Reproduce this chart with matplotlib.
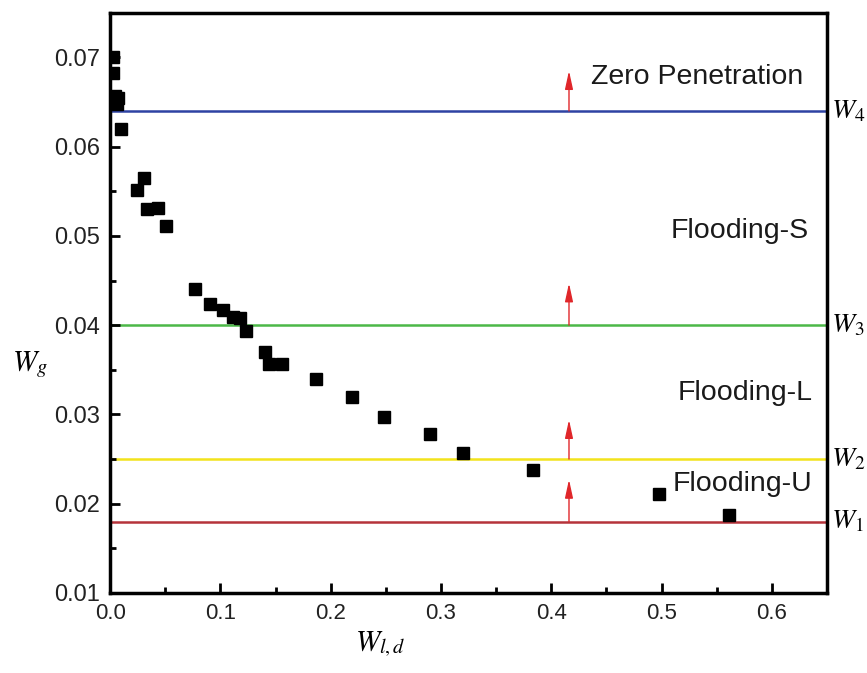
import numpy as np
from matplotlib import pyplot as plt
from matplotlib.ticker import MultipleLocator

plt.rcParams['font.family'] = ['Liberation Sans', 'DejaVu Sans']
plt.rcParams['mathtext.fontset'] = 'stix'

# measured points
wld = [0.003, 0.003, 0.004, 0.007, 0.006, 0.0097, 0.0248, 0.031, 0.0335, 0.0435,
       0.051, 0.0768, 0.0907, 0.1024, 0.1115, 0.118, 0.1236, 0.140, 0.1439, 0.156,
       0.1868, 0.2197, 0.2486, 0.290, 0.3195, 0.3834, 0.498, 0.5615]
wg = [0.0700, 0.0682, 0.0657, 0.0655, 0.0648, 0.0620, 0.0552, 0.0565, 0.0530, 0.0531,
      0.0511, 0.0441, 0.0424, 0.0417, 0.0409, 0.0408, 0.0393, 0.0370, 0.0357, 0.0357,
      0.0340, 0.0320, 0.0297, 0.0278, 0.0257, 0.0238, 0.0211, 0.0187]

# regime boundaries W1..W4
bounds = [0.018, 0.025, 0.040, 0.064]
bound_colors = ['#b5333a', '#f2e31c', '#4cb848', '#2e43a3']
bound_names = ['$W_1$', '$W_2$', '$W_3$', '$W_4$']
arrow_tops = [0.0227, 0.0294, 0.0447, 0.0685]
arrow_x = 0.416

regimes = ['Flooding-U', 'Flooding-L', 'Flooding-S', 'Zero Penetration']
regime_y = [0.0222, 0.0324, 0.0505, 0.0678]
regime_x = [0.637, 0.637, 0.633, 0.628]

fig = plt.figure(figsize=(8.67, 6.73), dpi=100)
ax = fig.add_axes([0.127, 0.119, 0.827, 0.862])

for yb, c, name in zip(bounds, bound_colors, bound_names):
    ax.axhline(yb, color=c, lw=1.8, zorder=1)
    ax.text(1.006, yb, name, transform=ax.get_yaxis_transform(), fontsize=20,
            va='center', ha='left')

for yb, top in zip(bounds, arrow_tops):
    ax.annotate('', xy=(arrow_x, top), xytext=(arrow_x, yb),
                arrowprops=dict(arrowstyle='-|>,head_length=0.55,head_width=0.12',
                                mutation_scale=20, color='#8e1c1c', fc='#e0262a',
                                ec='#e0262a', lw=1.0, shrinkA=0, shrinkB=0))

for name, x, y in zip(regimes, regime_x, regime_y):
    ax.text(x, y, name, fontsize=20.5, ha='right', va='center', color='#1a1a1a')

ax.plot(wld, wg, 's', color='black', ms=8.5, zorder=3)

ax.set_xlim(0, 0.65)
ax.set_ylim(0.01, 0.075)
ax.xaxis.set_minor_locator(MultipleLocator(0.05))
ax.yaxis.set_minor_locator(MultipleLocator(0.005))
ax.set_yticks([0.01, 0.02, 0.03, 0.04, 0.05, 0.06, 0.07])
ax.set_yticklabels(['0.01', '0.02', '0.03', '0.04', '0.05', '0.06', '0.07'])
ax.set_xticks([0, 0.1, 0.2, 0.3, 0.4, 0.5, 0.6])
ax.set_xticklabels(['0.0', '0.1', '0.2', '0.3', '0.4', '0.5', '0.6'])

ax.tick_params(which='both', direction='in', width=2, color='black',
               labelcolor='#222222')
ax.tick_params(which='major', length=7, pad=7)
ax.tick_params(which='minor', length=4)
ax.tick_params(axis='y', labelsize=17)
ax.tick_params(axis='x', labelsize=16)
for sp in ax.spines.values():
    sp.set_linewidth(2.5)

ax.set_xlabel('$W_{l,d}$', fontsize=21)
ax.xaxis.set_label_coords(0.377, -0.088)
ax.xaxis.label.set_va('center')
ax.set_ylabel('$W_g$', fontsize=21, rotation=0, va='center')
ax.yaxis.set_label_coords(-0.112, 0.393)

fig.savefig('out.png', dpi=100)
